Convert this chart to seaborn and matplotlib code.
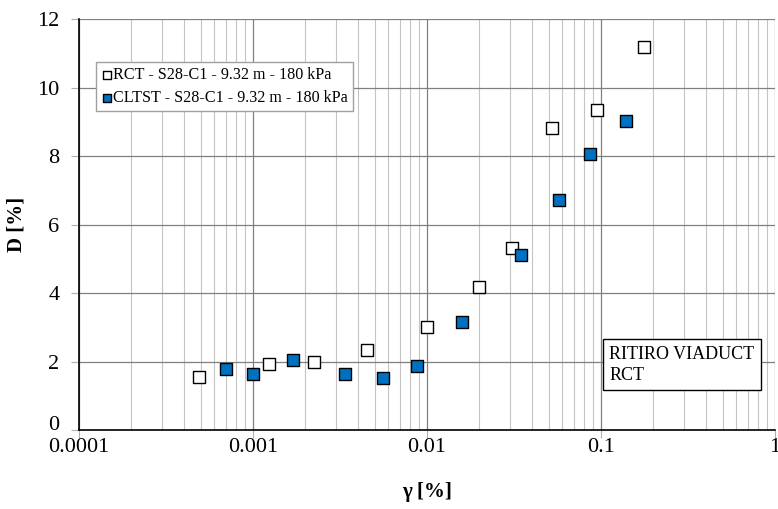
import matplotlib
matplotlib.use("Agg")
import matplotlib.pyplot as plt
import matplotlib.ticker as mticker
import matplotlib.transforms as mtransforms
import seaborn as sns
import pandas as pd

rct_gamma = [0.00049, 0.00123, 0.00225, 0.0045, 0.0100, 0.0199, 0.0308, 0.0523, 0.0948, 0.177]
rct_D = [1.55, 1.93, 1.98, 2.34, 3.01, 4.18, 5.31, 8.83, 9.36, 11.19]
cltst_gamma = [0.00070, 0.00100, 0.00170, 0.00340, 0.00560, 0.00875, 0.0159, 0.0347, 0.0574, 0.0865, 0.139]
cltst_D = [1.79, 1.65, 2.05, 1.65, 1.52, 1.88, 3.15, 5.12, 6.72, 8.06, 9.03]
rct_label = "RCT - S28-C1 - 9.32 m - 180 kPa"
cltst_label = "CLTST - S28-C1 - 9.32 m - 180 kPa"
x_ticks = [0.0001, 0.001, 0.01, 0.1, 1]
x_tick_labels = ["0.0001", "0.001", "0.01", "0.1", "1"]
y_ticks = [0, 2, 4, 6, 8, 10, 12]

sns.set_theme(style="white")
plt.rcParams['font.family'] = ['Liberation Serif', 'DejaVu Serif']
plt.rcParams['text.color'] = 'black'
plt.rcParams['axes.labelcolor'] = 'black'

fig = plt.figure(figsize=(7.78, 5.09), dpi=100)
ax = fig.add_axes([0.1015, 0.155, 0.8945, 0.8075])

df_rct = pd.DataFrame({"gamma": rct_gamma, "D": rct_D})
df_cl = pd.DataFrame({"gamma": cltst_gamma, "D": cltst_D})

sns.scatterplot(data=df_rct, x="gamma", y="D", marker="s", s=80, color="white",
                edgecolor="black", linewidth=1.0, ax=ax, label=rct_label, zorder=3)
sns.scatterplot(data=df_cl, x="gamma", y="D", marker="s", s=80, color="#0070C0",
                edgecolor="black", linewidth=1.0, ax=ax, label=cltst_label, zorder=3)

ax.set_xscale("log")
ax.set_xlim(0.0001, 1)
ax.set_ylim(0, 12)
ax.set_xticks(x_ticks)
ax.xaxis.set_major_formatter(mticker.FixedFormatter(x_tick_labels))
ax.xaxis.set_minor_locator(mticker.LogLocator(base=10, subs=range(2, 10), numticks=20))
ax.xaxis.set_minor_formatter(mticker.NullFormatter())
ax.set_yticks(y_ticks)

ax.grid(True, which="major", color="#808080", linewidth=0.9)
ax.grid(True, which="minor", axis="x", color="#c4c4c4", linewidth=0.8)
ax.set_axisbelow(True)

ax.tick_params(axis="both", which="major", direction="out", length=6, color="#b0b0b0",
               width=0.8, labelsize=16, bottom=True, left=True, labelcolor="black")
ax.tick_params(axis="x", which="major", pad=0)
ax.tick_params(axis="y", which="major", pad=8)
ax.tick_params(axis="x", which="minor", length=0)

# lift the "0" label slightly, as in the reference
zero_lbl = ax.get_yticklabels()[0]
zero_lbl.set_transform(zero_lbl.get_transform() +
                       mtransforms.ScaledTranslation(0, 5 / 72, fig.dpi_scale_trans))

for side in ["top", "right"]:
    ax.spines[side].set_visible(False)
for side in ["left", "bottom"]:
    ax.spines[side].set_color("black")
    ax.spines[side].set_linewidth(1.2)

ax.set_xlabel("γ [%]", fontsize=15, fontweight="bold", labelpad=18)
ax.set_ylabel("D [%]", fontsize=15, fontweight="bold", labelpad=8)

leg = ax.legend(loc="upper left", bbox_to_anchor=(0.025, 0.895), fontsize=11.6,
                frameon=True, fancybox=False, edgecolor="#a0a0a0", framealpha=1,
                borderpad=0.3, handletextpad=0.05, handlelength=0.7,
                labelspacing=0.45, borderaxespad=0, markerscale=0.65)
leg.get_frame().set_linewidth(1.0)
for t in leg.get_texts():
    t.set_color("black")

ax.text(0.762, 0.113, "RITIRO VIADUCT\nRCT", transform=ax.transAxes, fontsize=13,
        ha="left", va="bottom", linespacing=1.3,
        bbox=dict(boxstyle="square,pad=0.35", facecolor="white", edgecolor="black", linewidth=1.0),
        zorder=5)

fig.savefig("out.png", dpi=100)
